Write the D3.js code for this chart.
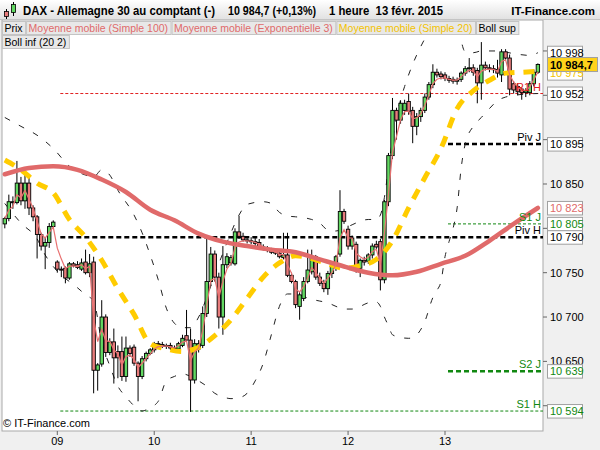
<!DOCTYPE html>
<html>
<head>
<meta charset="utf-8">
<script src="https://cdn.jsdelivr.net/npm/d3@7"></script>
<style>
body { margin: 0; background: #f0f0f0; }
svg { display: block; font-family: "Liberation Sans", Arial, sans-serif; }
</style>
</head>
<body>
<svg id="chart" width="600" height="450"></svg>
<script>
// hourly candles, index 0 = first visible candle (fri 06)
const opens = [10805,10811,10830,10829,10851,10831,10851,10823,10813,10793,10780,10784,10802,
  10762,10754,10755,10744,10760,10759,10754,10762,10750,10762,10640,10647,10700,10660,10672,10661,10661,10633,10665,10666,10648,10633,10653,10659,
  10663,10670,10669,10667,10668,10665,10664,10668,10679,10674,10629,10664,10668,10704,10740,10771,10745,10700,10759,10761,10760,10796,10791,10787,
  10786,10785,10784,10779,10777,10775,10774,10772,10767,10770,10747,10740,10712,10721,10740,10751,10768,10745,10738,10732,10749,10757,10771,10819,
  10799,10780,10782,10755,10764,10763,10770,10782,10785,10742,10830,10882,10933,10922,10933,10943,10933,10915,10926,10933,10948,10962,10976,10974,
  10973,10969,10968,10966,10968,10975,10980,10981,10978,10964,10984,10981,10980,10979,10973,10999,10992,10963,10960,10957,10953,10953,10963,10976];
const highs = [10813,10838,10836,10876,10858,10862,10858,10826,10815,10795,10790,10806,10809,
  10764,10757,10757,10762,10762,10763,10766,10776,10771,10768,10648,10719,10703,10676,10687,10668,10678,10678,10668,10669,10650,10656,10661,10665,
  10672,10673,10672,10670,10671,10668,10672,10680,10708,10687,10675,10674,10712,10792,10779,10775,10750,10780,10772,10770,10800,10814,10795,10790,
  10790,10789,10788,10782,10780,10778,10777,10775,10795,10795,10750,10742,10728,10745,10776,10776,10770,10750,10742,10752,10760,10770,10843,10822,
  10803,10792,10785,10766,10768,10772,10783,10786,10788,10832,10885,10947,10936,10944,10945,10952,10937,10930,10936,10952,10965,10985,10980,10977,
  10976,10972,10971,10970,10977,10983,10992,10985,10981,11010,10988,10985,10984,10990,11002,11002,10996,10966,10963,10959,10958,10966,10979,10986];
const lows = [10800,10808,10822,10827,10826,10822,10815,10808,10766,10775,10754,10778,10800,
  10750,10745,10738,10742,10756,10754,10752,10748,10745,10614,10617,10644,10655,10657,10625,10631,10628,10627,10655,10645,10605,10630,10650,10657,
  10660,10667,10665,10664,10663,10662,10662,10666,10672,10593,10625,10660,10665,10700,10735,10740,10687,10680,10755,10758,10758,10788,10785,10783,
  10782,10780,10777,10775,10773,10771,10770,10766,10765,10745,10738,10710,10697,10718,10738,10748,10742,10735,10728,10725,10744,10752,10768,10805,
  10776,10776,10750,10745,10758,10760,10766,10776,10730,10738,10825,10878,10900,10918,10928,10928,10896,10905,10920,10930,10945,10958,10970,10968,
  10966,10964,10963,10962,10965,10972,10976,10972,10941,10945,10978,10976,10975,10970,10965,10990,10950,10952,10950,10945,10948,10950,10960,10974];
const closes = [10811,10830,10829,10851,10831,10851,10823,10813,10793,10780,10784,10802,10807,
  10754,10753,10744,10760,10758,10756,10761,10750,10760,10640,10646,10700,10660,10672,10654,10654,10633,10665,10659,10648,10633,10653,10659,10663,
  10670,10669,10667,10668,10665,10664,10670,10676,10674,10629,10670,10670,10704,10740,10771,10745,10700,10759,10768,10767,10796,10791,10787,10786,
  10785,10783,10779,10777,10775,10773,10772,10768,10770,10747,10740,10714,10725,10740,10753,10768,10745,10738,10732,10749,10757,10768,10819,10808,
  10780,10789,10755,10764,10762,10770,10780,10779,10742,10830,10882,10933,10922,10941,10941,10932,10915,10926,10933,10948,10962,10976,10973,10971,
  10969,10967,10966,10967,10975,10980,10981,10976,10964,10984,10981,10980,10979,10975,10999,10992,10957,10956,10954,10953,10955,10963,10976,10984.7];

const dayLabels = ["09", "10", "11", "12", "13"];
const dayStarts = [13, 37, 61, 85, 109];

// indicator lines at sample candles
const ma100Idx = [0,6,12,18,24,30,36,42,48,54,60,66,72,78,84,90,96,102,108,114,120,126,132];
const ma100Val = [10861,10868,10870,10866,10855,10841,10821,10809,10794,10785,10780,10776,10773,10765,10757,10750,10747,10751,10760,10769,10786,10805,10823];

const ma20Idx = [0,4,8,12,16,20,24,28,32,36,40,44,48,52,56,60,64,68,72,76,80,84,88,92,96,100,104,108,112,116,120,124,128,132];
const ma20Val = [10877,10866,10851,10840,10810,10790,10764,10732,10703,10670,10664,10661,10666,10679,10697,10721,10745,10761,10769,10766,10760,10755,10758,10765,10786,10823,10857,10890,10935,10955,10967,10975,10976,10977];

const bollUpIdx = [0,4,8,12,16,20,22,24,26,28,32,34,36,38,40,42,44,46,48,50,52,54,56,58,60,64,66,68,70,72,74,76,78,80,82,84,86,88,90,92,93,94,95,96,97,98,99,101,103,105,107,109,111,112,113,114,116,118,122,126,130,132];
const bollUpVal = [10925,10915,10905,10890,10870,10860,10858,10866,10860,10843,10815,10795,10770,10742,10710,10693,10688,10688,10700,10722,10748,10772,10795,10815,10827,10830,10828,10818,10814,10813,10812,10810,10806,10798,10797,10800,10804,10808,10810,10810,10815,10835,10868,10900,10925,10945,10960,10985,11005,11022,11038,11050,11052,11040,11012,10999,10998,11000,11000,10997,10995,10998];

const bollLowIdx = [0,4,8,10,12,14,16,18,20,22,24,26,28,30,32,34,36,38,40,42,44,46,48,50,52,54,56,58,60,62,64,66,68,70,72,74,76,78,80,82,84,86,88,90,92,93,94,95,96,98,100,102,104,106,107,108,109,110,111,112,113,114,116,118,120,122,124,128,132];
const bollLowVal = [10828,10806,10788,10770,10757,10747,10740,10733,10725,10718,10672,10645,10622,10610,10600,10594,10598,10605,10628,10633,10636,10633,10628,10622,10614,10610,10608,10609,10614,10628,10648,10680,10712,10726,10726,10723,10720,10718,10716,10712,10709,10709,10712,10716,10717,10712,10700,10690,10680,10677,10676,10680,10695,10722,10730,10740,10768,10785,10800,10823,10868,10895,10915,10925,10935,10944,10948,10951,10952];

// pivot levels (H = hebdo, J = jour)
const pivotNames = ["R1 H", "Piv H", "S1 H", "Piv J", "S1 J", "S2 J"];
const pivotValues = [10952, 10790, 10594, 10895, 10805, 10639];
const pivotFrom = [13, 13, 13, 109, 109, 109];

const yTicks = [10600, 10650, 10700, 10750, 10800, 10850, 10900, 10950, 11000];

// value tags on the price axis
const tagValues = [10998, 10975, 10952, 10895, 10823, 10805, 10790, 10639, 10594];
const tagKinds = ["boll", "ma20", "boll", "piv", "ma100", "sup", "piv", "sup", "sup"];
const lastPrice = 10984.7;

const legendRow1 = ["Prix", "Moyenne mobile (Simple 100)", "Moyenne mobile (Exponentielle 3)", "Moyenne mobile (Simple 20)", "Boll sup"];
const legendRow2 = ["Boll inf (20 2)"];

const fr = d3.formatLocale({decimal: ",", thousands: "\u00a0", grouping: [3], currency: ["", ""]});
const fmt0 = fr.format(",.0f"), fmt1 = fr.format(",.1f");

const svg = d3.select("#chart");
const plot = {left: 2, right: 543, top: 20, bottom: 431};

const x = d3.scaleLinear().domain([13, 109]).range([57.3, 445]);
const y = d3.scaleLinear().domain([10571.5, 11034.9]).range([plot.bottom, plot.top]);

const green = "#62d862", red = "#e87c7c", salmon = "#e06a6a", gold = "#ffcc00";
const kindColor = {boll: "#000", ma20: "#f2c200", piv: "#000", ma100: "#e06a6a", sup: "#118811"};

svg.append("rect").attr("width", 600).attr("height", 450).attr("fill", "#f0f0f0");

const defs = svg.append("defs");
defs.append("clipPath").attr("id", "clip").append("rect")
  .attr("x", plot.left).attr("y", plot.top)
  .attr("width", plot.right - plot.left).attr("height", plot.bottom - plot.top);
const grad = defs.append("linearGradient").attr("id", "bar").attr("x1", 0).attr("y1", 0).attr("x2", 0).attr("y2", 1);
grad.append("stop").attr("offset", 0).attr("stop-color", "#ffffff");
grad.append("stop").attr("offset", 1).attr("stop-color", "#e0e0e0");

svg.append("rect")
  .attr("x", plot.left).attr("y", plot.top)
  .attr("width", plot.right - plot.left).attr("height", plot.bottom - plot.top)
  .attr("fill", "#fff").attr("stroke", "#a9a9a9");

const g = svg.append("g").attr("clip-path", "url(#clip)");

// pivots
pivotNames.forEach((name, k) => {
  const isPiv = name.startsWith("Piv");
  const col = name.startsWith("R") ? "#e02020" : isPiv ? "#000" : "#118811";
  const thick = isPiv || name === "S2 J";
  g.append("line")
    .attr("x1", x(pivotFrom[k]) + 3).attr("x2", plot.right)
    .attr("y1", y(pivotValues[k])).attr("y2", y(pivotValues[k]))
    .attr("stroke", col)
    .attr("stroke-width", thick ? 2.5 : 1)
    .attr("stroke-dasharray", thick ? "5,3" : "3,2");
});

// bollinger
const bandLine = d3.line().x(d => x(d[0])).y(d => y(d[1])).curve(d3.curveMonotoneX);
[[bollUpIdx, bollUpVal], [bollLowIdx, bollLowVal]].forEach(([ix, vals]) => {
  g.append("path")
    .datum(ix.map((d, k) => [d, vals[k]]))
    .attr("d", bandLine)
    .attr("fill", "none").attr("stroke", "#222").attr("stroke-width", 1)
    .attr("stroke-dasharray", "6,10");
});

// candles
const idx = d3.range(closes.length);
const candle = g.append("g").selectAll("g").data(idx).join("g");
candle.append("line")
  .attr("x1", i => x(i)).attr("x2", i => x(i))
  .attr("y1", i => y(highs[i])).attr("y2", i => y(lows[i]))
  .attr("stroke", "#000").attr("stroke-width", 1);
candle.append("rect")
  .attr("x", i => x(i) - 1.7)
  .attr("width", 3.4)
  .attr("y", i => y(Math.max(opens[i], closes[i])))
  .attr("height", i => Math.max(1, Math.abs(y(opens[i]) - y(closes[i]))))
  .attr("fill", i => closes[i] >= opens[i] ? green : red)
  .attr("stroke", "#000").attr("stroke-width", 0.9);

// moving averages
g.append("path")
  .datum(ma20Idx.map((d, k) => [d, ma20Val[k]]))
  .attr("d", bandLine)
  .attr("fill", "none").attr("stroke", gold).attr("stroke-width", 5)
  .attr("stroke-dasharray", "11,9");

g.append("path")
  .datum(ma100Idx.map((d, k) => [d, ma100Val[k]]))
  .attr("d", bandLine)
  .attr("fill", "none").attr("stroke", salmon).attr("stroke-width", 4.5)
  .attr("stroke-linecap", "round");

const ema3 = [];
closes.forEach((c, i) => ema3.push(i === 0 ? c : ema3[i - 1] + 0.5 * (c - ema3[i - 1])));
g.append("path")
  .datum(ema3)
  .attr("d", d3.line().x((d, i) => x(i)).y(d => y(d)))
  .attr("fill", "none").attr("stroke", "#e87070").attr("stroke-width", 1.2);

// pivot labels
pivotNames.forEach((name, k) => {
  const col = name.startsWith("R") ? "#e02020" : name.startsWith("Piv") ? "#000" : "#118811";
  svg.append("text")
    .attr("x", plot.right - 2).attr("y", y(pivotValues[k]) - 3)
    .attr("text-anchor", "end")
    .attr("font-size", 11)
    .attr("fill", col)
    .text(name);
});

// price axis: a label hidden behind a value tag is not drawn
const yAxis = svg.append("g");
yTicks.forEach(v => {
  yAxis.append("line").attr("x1", plot.right).attr("x2", plot.right + 4)
    .attr("y1", y(v)).attr("y2", y(v)).attr("stroke", "#666");
  const hidden = tagValues.some(t => Math.abs(y(t) - y(v)) < 9) || Math.abs(y(lastPrice) - y(v)) < 9;
  if (!hidden) {
    yAxis.append("text").attr("x", plot.right + 7).attr("y", y(v) + 4)
      .attr("font-size", 11).attr("fill", "#000").text(fmt0(v));
  }
});

// tags
tagValues.forEach((v, k) => {
  const ty = y(v);
  svg.append("rect").attr("x", 547.5).attr("y", ty - 6.5).attr("width", 35).attr("height", 13.5)
    .attr("fill", "#fff").attr("stroke", "#a0a0a0");
  svg.append("text").attr("x", 550).attr("y", ty + 4)
    .attr("font-size", 11).attr("fill", kindColor[tagKinds[k]]).text(fmt0(v));
  if (v === 10975) {
    const py = y(lastPrice);
    svg.append("rect").attr("x", 547.5).attr("y", py - 7).attr("width", 50).attr("height", 14)
      .attr("fill", "#ffd21a").attr("stroke", "#a0a0a0");
    svg.append("text").attr("x", 550).attr("y", py + 4)
      .attr("font-size", 11).attr("font-weight", "bold").attr("fill", "#000").text(fmt1(lastPrice));
  }
});

// time axis
dayStarts.forEach((d, k) => {
  svg.append("line").attr("x1", x(d)).attr("x2", x(d))
    .attr("y1", plot.bottom).attr("y2", plot.bottom + 4).attr("stroke", "#666");
  svg.append("text").attr("x", x(d)).attr("y", plot.bottom + 14)
    .attr("text-anchor", "middle").attr("font-size", 11).attr("fill", "#000").text(dayLabels[k]);
});

svg.append("text").attr("x", 3).attr("y", plot.bottom - 4)
  .attr("font-size", 11).attr("fill", "#000").text("\u00a9 IT-Finance.com");

// title bar
svg.append("rect").attr("x", 0).attr("y", 0).attr("width", 600).attr("height", 20).attr("fill", "url(#bar)");
svg.append("line").attr("x1", 0).attr("x2", 600).attr("y1", 19.5).attr("y2", 19.5).attr("stroke", "#c4c4c4");
const icon = svg.append("g");
icon.append("line").attr("x1", 6.5).attr("x2", 6.5).attr("y1", 9).attr("y2", 19).attr("stroke", "#000");
icon.append("rect").attr("x", 4.5).attr("y", 11.5).attr("width", 4).attr("height", 5).attr("fill", red).attr("stroke", "#000").attr("stroke-width", 0.8);
icon.append("line").attr("x1", 13.5).attr("x2", 13.5).attr("y1", 2).attr("y2", 16).attr("stroke", "#000");
icon.append("rect").attr("x", 11.5).attr("y", 4.5).attr("width", 4).attr("height", 8).attr("fill", green).attr("stroke", "#000").attr("stroke-width", 0.8);

const titleParts = ["DAX - Allemagne 30 au comptant (-)", fmt1(lastPrice) + " (+0,13%)", "1 heure  13 févr. 2015"];
const titleX = [23, 228, 329];
const titleW = [192, 88, 114];
titleParts.forEach((t, k) => {
  svg.append("text").attr("x", titleX[k]).attr("y", 15)
    .attr("font-size", 12).attr("font-weight", "bold").attr("fill", "#000")
    .attr("textLength", titleW[k]).attr("lengthAdjust", "spacingAndGlyphs")
    .style("white-space", "pre").text(t);
});
svg.append("text").attr("x", 595).attr("y", 15).attr("text-anchor", "end")
  .attr("font-size", 11.5).attr("font-weight", "bold").attr("fill", "#000")
  .text("IT-Finance.com");

// legend buttons
const legendColor = ["#000", salmon, salmon, "#f2c200", "#000"];
function legendRow(names, colors, top) {
  let lx = 2;
  names.forEach((n, k) => {
    const t = svg.append("text").attr("x", lx + 2.5).attr("y", top + 10.5)
      .attr("font-size", 10.5).attr("fill", colors[k]).text(n);
    const w = t.node().getComputedTextLength() + 5;
    svg.insert("rect", () => t.node())
      .attr("x", lx + 0.5).attr("y", top + 0.5).attr("width", w).attr("height", 13)
      .attr("fill", "#e8e8e8").attr("stroke", "#c4c4c4");
    lx += w + 1;
  });
}
legendRow(legendRow1, legendColor, 21);
legendRow(legendRow2, ["#000"], 35);
</script>
</body>
</html>
